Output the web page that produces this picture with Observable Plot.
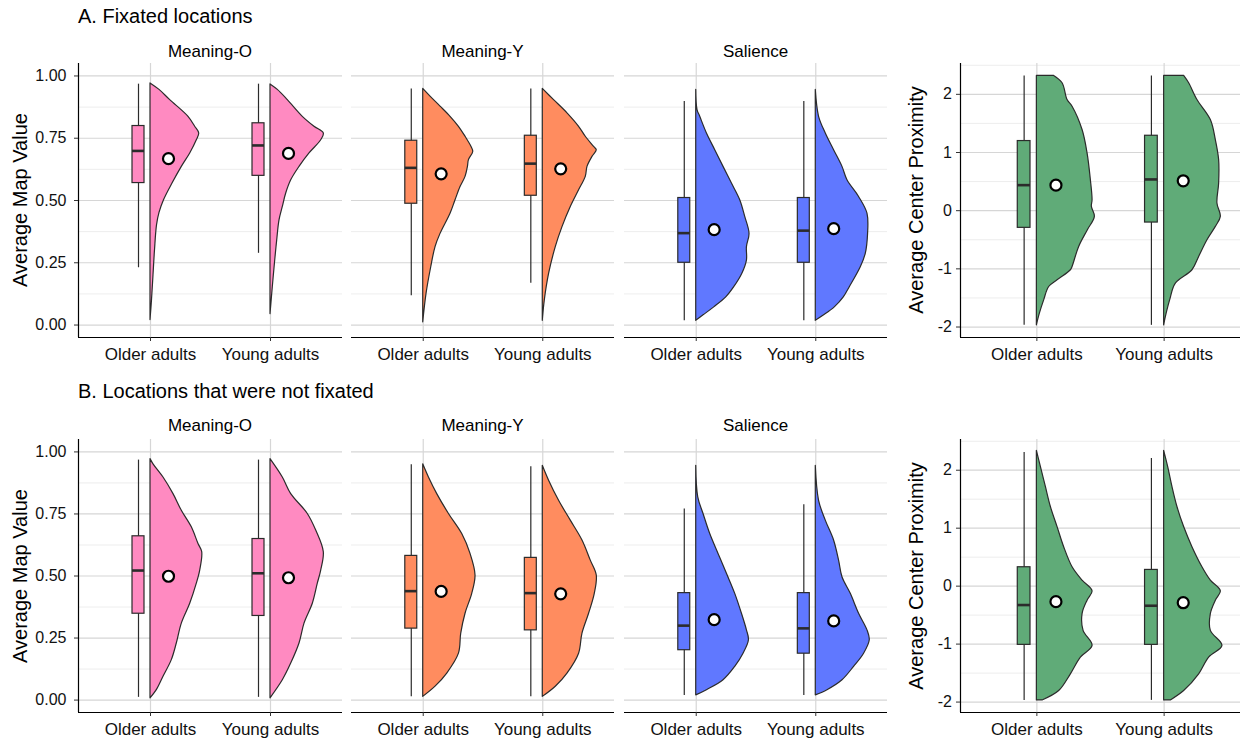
<!DOCTYPE html>
<html>
<head>
<meta charset="utf-8">
<script src="https://cdn.jsdelivr.net/npm/d3@7"></script>
<script src="https://cdn.jsdelivr.net/npm/@observablehq/plot@0.6"></script>
<style>
  body { margin: 0; background: #fff; font-family: "Liberation Sans", Arial, sans-serif; }
  #fig { position: relative; width: 1248px; height: 743px; overflow: hidden; background: #fff; }
  .lbl { position: absolute; line-height: 1; white-space: nowrap; color: #000; }
  .pnl { position: absolute; }
</style>
</head>
<body>
<div id="fig"></div>
<script>
// ---------------- DATA ----------------
const groups = ["Older adults", "Young adults"];
const rowTitles = ["A. Fixated locations", "B. Locations that were not fixated"];
const facetNames = ["Meaning-O", "Meaning-Y", "Salience"];
const mapLabel = "Average Map Value";
const proxLabel = "Average Center Proximity";
const mapTicks = [0, 0.25, 0.5, 0.75, 1];
const mapMinor = [0.125, 0.375, 0.625, 0.875];
const proxTicks = [-2, -1, 0, 1, 2];
const proxMinor = [-1.5, -0.5, 0.5, 1.5, 2.5];
const palette = ["#ff8ac1", "#ff8c5f", "#6078ff", "#60ab78"];

// box stats: [lower whisker, Q1, median, Q3, upper whisker] for [Older, Young]
const A1_box = [[0.23, 0.57, 0.699, 0.799, 0.967], [0.288, 0.599, 0.721, 0.81, 0.967]];
const A2_box = [[0.118, 0.487, 0.631, 0.74, 0.948], [0.168, 0.519, 0.648, 0.76, 0.948]];
const A3_box = [[0.017, 0.25, 0.369, 0.51, 0.897], [0.017, 0.25, 0.379, 0.51, 0.897]];
const A4_box = [[-1.971, -0.295, 0.439, 1.197, 2.315], [-1.971, -0.204, 0.537, 1.288, 2.315]];
const B1_box = [[0.011, 0.348, 0.522, 0.66, 0.967], [0.011, 0.339, 0.511, 0.649, 0.967]];
const B2_box = [[0.013, 0.288, 0.439, 0.581, 0.948], [0.013, 0.281, 0.431, 0.573, 0.94]];
const B3_box = [[0.019, 0.201, 0.300, 0.431, 0.770], [0.019, 0.187, 0.289, 0.431, 0.787]];
const B4_box = [[-1.971, -1.013, -0.326, 0.326, 2.306], [-1.971, -1.013, -0.338, 0.280, 2.202]];

// means for [Older, Young]
const A1_mean = [0.668, 0.689];
const A2_mean = [0.607, 0.627];
const A3_mean = [0.383, 0.387];
const A4_mean = [0.439, 0.514];
const B1_mean = [0.499, 0.493];
const B2_mean = [0.438, 0.428];
const B3_mean = [0.324, 0.319];
const B4_mean = [-0.268, -0.286];

// half-violin density profiles: [value, density] for [Older, Young]
const A1_violin = [
  [[0.97,0],[0.944,9],[0.903,19.7],[0.836,38],[0.796,44.7],[0.769,48.7],[0.742,46.3],[0.689,39.7],[0.635,31.3],[0.568,22],[0.501,13.5],[0.45,9],[0.40,6.5],[0.30,4.5],[0.20,3],[0.10,1.5],[0.02,0]],
  [[0.966,0],[0.944,7.3],[0.903,17.3],[0.836,32.3],[0.796,44],[0.769,53.3],[0.742,50.7],[0.689,39],[0.635,29],[0.581,20.7],[0.528,15.7],[0.474,12.3],[0.42,9],[0.34,6.7],[0.259,4.7],[0.152,2.3],[0.044,0]]
];
const A2_violin = [
  [[0.948,0],[0.917,7.3],[0.877,17.3],[0.836,27.3],[0.796,35.7],[0.756,42.3],[0.715,48.3],[0.695,50],[0.662,45.7],[0.635,44.7],[0.595,42.3],[0.554,37.3],[0.501,32.3],[0.447,27.3],[0.366,17.3],[0.313,12.3],[0.232,8],[0.125,3.3],[0.011,0]],
  [[0.948,0],[0.903,11.3],[0.85,24.7],[0.796,36.3],[0.756,43],[0.715,51.3],[0.702,54],[0.675,49.7],[0.635,44.7],[0.595,43],[0.541,36.3],[0.474,28],[0.393,19.7],[0.313,13],[0.205,6.3],[0.098,2],[0.017,0]]
];
const A3_violin = [
  [[0.944,0],[0.863,1.3],[0.836,4],[0.769,10.7],[0.702,19],[0.635,27.3],[0.568,35.7],[0.501,44],[0.434,49],[0.366,53.3],[0.313,50.7],[0.259,50.7],[0.205,46],[0.152,38],[0.111,30],[0.071,18],[0.038,7],[0.017,0]],
  [[0.944,0],[0.836,3.3],[0.769,10],[0.702,18.3],[0.635,26.7],[0.581,31.7],[0.514,43.3],[0.447,51.7],[0.366,52.3],[0.286,50],[0.232,45],[0.152,34],[0.111,28],[0.071,19],[0.038,8],[0.017,0]]
];
const A4_violin = [
  [[2.316,17.3],[2.19,25.7],[1.902,30.7],[1.787,35.7],[1.386,45.7],[0.984,50.7],[0.525,54],[0.181,55.7],[0.066,55],[-0.106,58],[-0.336,51],[-0.623,42.3],[-0.967,35.7],[-1.024,34],[-1.197,20.7],[-1.312,12.3],[-1.541,7.3],[-1.77,3],[-1.971,0]],
  [[2.316,20],[2.19,25],[1.902,33.3],[1.558,46.7],[1.214,51.7],[0.869,55],[0.468,55],[0.123,53.3],[-0.106,56.7],[-0.278,51.7],[-0.508,43.3],[-0.795,35],[-1.024,28.3],[-1.254,11.7],[-1.541,6],[-1.828,1.7],[-1.971,0]]
];
const B1_violin = [
  [[0.971,0],[0.95,3],[0.897,13],[0.83,23],[0.763,31.3],[0.696,41.3],[0.629,48],[0.596,51.7],[0.522,49.7],[0.469,46.3],[0.388,39.7],[0.308,31.3],[0.228,26.3],[0.161,21.3],[0.094,13],[0.04,6.3],[0.007,0]],
  [[0.971,0],[0.897,12.3],[0.83,20.7],[0.75,37.3],[0.683,45.7],[0.596,53.3],[0.522,50.7],[0.469,47.3],[0.388,42.3],[0.308,34],[0.228,29],[0.147,20.7],[0.08,12.3],[0.007,0]]
];
const B2_violin = [
  [[0.95,0],[0.897,5.7],[0.83,14],[0.75,25.7],[0.669,39],[0.589,47.3],[0.502,52.3],[0.428,49],[0.348,42.3],[0.268,38],[0.187,35.7],[0.107,24],[0.054,12.3],[0.013,0]],
  [[0.944,0],[0.884,6.3],[0.803,16.3],[0.723,28],[0.643,39.7],[0.562,48],[0.502,54],[0.428,52],[0.348,46.3],[0.268,39.7],[0.187,36.3],[0.107,24.7],[0.054,13],[0.013,0]]
];
const B3_violin = [
  [[0.944,0],[0.817,2],[0.75,7.3],[0.669,14],[0.589,22.3],[0.509,30.7],[0.428,39],[0.348,45.7],[0.281,50.7],[0.241,52.7],[0.187,47.3],[0.134,39],[0.08,27.3],[0.04,10.7],[0.019,0]],
  [[0.944,0],[0.803,3.3],[0.723,10],[0.643,18.3],[0.562,23.3],[0.495,26.7],[0.428,35],[0.348,43.3],[0.281,51.7],[0.241,54],[0.187,48.3],[0.134,38.3],[0.08,26.7],[0.04,11.7],[0.019,0]]
];
const B4_violin = [
  [[2.335,0],[2.058,4],[1.711,9],[1.365,14],[1.019,20.7],[0.672,27.3],[0.326,35.7],[0.095,45.7],[-0.089,55.7],[-0.251,50.7],[-0.482,45.7],[-0.771,46.7],[-1.031,55.7],[-1.233,44],[-1.521,34],[-1.81,22.3],[-1.972,5.7]],
  [[2.335,0],[2.058,4],[1.711,8.3],[1.365,13.3],[1.019,20],[0.672,28.3],[0.326,38.3],[0.095,46.7],[-0.089,56.7],[-0.251,51.7],[-0.482,46.7],[-0.771,46.7],[-1.031,58.3],[-1.233,45],[-1.521,35],[-1.81,20],[-1.972,6.7]]
];

// ---------------- LAYOUT ----------------
const fig = document.getElementById("fig");
const FONT = '"Liberation Sans", Arial, sans-serif';
const frames = [{left: 78, width: 264}, {left: 351, width: 263}, {left: 624, width: 263}, {left: 960, width: 280}];
const rowFrames = [{top: 63, height: 274}, {top: 439, height: 273}];

function addLabel(text, x, baseline, size, align, rotate) {
  const d = document.createElement("div");
  d.className = "lbl";
  d.textContent = text;
  d.style.fontSize = size + "px";
  if (rotate) {
    d.style.width = "400px";
    d.style.textAlign = "center";
    d.style.left = (x - 0.3465 * size - 200) + "px";
    d.style.top = (baseline - size / 2) + "px";
    d.style.transform = "rotate(-90deg)";
  } else if (align === "center") {
    d.style.width = "400px";
    d.style.textAlign = "center";
    d.style.left = (x - 200) + "px";
    d.style.top = (baseline - 0.8465 * size) + "px";
  } else {
    d.style.left = x + "px";
    d.style.top = (baseline - 0.8465 * size) + "px";
  }
  fig.appendChild(d);
}

function panel(row, col, box, mean, violin) {
  const fr = frames[col];
  const rf = rowFrames[row];
  const isMap = col < 3;
  const hasY = col === 0 || col === 3;
  const color = palette[col];
  const ml = hasY ? 72 : 4, mr = 6, mt = 4, mb = 34;
  const yDomain = isMap ? [-0.05, 1.05] : [-2.18, 2.53];
  const k = 2.2 / fr.width; // density (px) -> x units
  const vdata = violin.flatMap((prof, i) => prof.map(([v, w]) => ({g: i + 1, v, w})));
  const marks = [
    Plot.ruleY(isMap ? mapMinor : proxMinor, {stroke: "#ebebeb", strokeWidth: 0.9}),
    Plot.ruleY(isMap ? mapTicks : proxTicks, {stroke: "#d6d6d6", strokeWidth: 1.2}),
    Plot.ruleX([1, 2], {stroke: "#d6d6d6", strokeWidth: 1.2}),
    Plot.areaX(vdata, {y: "v", x1: d => d.g, x2: d => d.g + d.w * k, z: "g", fill: color, stroke: "#2b2b2b", strokeWidth: 1.2, curve: "catmull-rom"}),
    Plot.ruleX(box, {x: (d, i) => i + 1 - 0.1, y1: d => d[0], y2: d => d[4], stroke: "#2b2b2b", strokeWidth: 1.2}),
    Plot.rect(box, {x1: (d, i) => i + 1 - 0.15, x2: (d, i) => i + 1 - 0.05, y1: d => d[1], y2: d => d[3], fill: color, stroke: "#2b2b2b", strokeWidth: 1.2}),
    Plot.ruleY(box, {y: d => d[2], x1: (d, i) => i + 1 - 0.15, x2: (d, i) => i + 1 - 0.05, stroke: "#2b2b2b", strokeWidth: 2.6}),
    Plot.dot(mean, {x: (d, i) => i + 1 + 0.15, y: d => d, r: 5.5, fill: "white", stroke: "black", strokeWidth: 2.2}),
    Plot.ruleY([yDomain[0]], {stroke: "black", strokeWidth: 1.2}),
    Plot.axisX([1, 2], {tickFormat: i => groups[i - 1], tickSize: 4, tickPadding: 6, fontSize: 17, label: null, stroke: "#333"})
  ];
  if (hasY) {
    marks.push(Plot.ruleX([0.4], {stroke: "black", strokeWidth: 1.2}));
    marks.push(Plot.axisY(isMap ? mapTicks : proxTicks, {
      tickFormat: isMap ? (d => d.toFixed(2)) : (d => String(d)),
      tickSize: 4, tickPadding: isMap ? 8 : 4.5, fontSize: 16, label: null, stroke: "#333"
    }));
  }
  const p = Plot.plot({
    width: fr.width + ml + mr,
    height: rf.height + mt + mb,
    marginLeft: ml, marginRight: mr, marginTop: mt, marginBottom: mb,
    x: {type: "linear", domain: [0.4, 2.6], axis: null},
    y: {domain: yDomain, axis: null},
    style: {background: "transparent", fontFamily: FONT, color: "#111", overflow: "visible"},
    marks
  });
  const wrap = document.createElement("div");
  wrap.className = "pnl";
  wrap.style.left = (fr.left - ml) + "px";
  wrap.style.top = (rf.top - mt) + "px";
  wrap.appendChild(p);
  fig.appendChild(wrap);
}

const rowsData = [
  [[A1_box, A1_mean, A1_violin], [A2_box, A2_mean, A2_violin], [A3_box, A3_mean, A3_violin], [A4_box, A4_mean, A4_violin]],
  [[B1_box, B1_mean, B1_violin], [B2_box, B2_mean, B2_violin], [B3_box, B3_mean, B3_violin], [B4_box, B4_mean, B4_violin]]
];

rowsData.forEach((row, r) => row.forEach(([b, m, v], c) => panel(r, c, b, m, v)));

// titles and labels
const titleBase = [23.3, 398.3];
const facetBase = [57.3, 431.7];
rowTitles.forEach((t, r) => {
  addLabel(t, 78, titleBase[r], 20, "left", false);
  facetNames.forEach((f, c) => addLabel(f, frames[c].left + frames[c].width / 2, facetBase[r], 17, "center", false));
  const cy = rowFrames[r].top + rowFrames[r].height / 2;
  addLabel(mapLabel, 26.5, cy, 20, "center", true);
  addLabel(proxLabel, 922.5, cy, 20, "center", true);
});
</script>
</body>
</html>
